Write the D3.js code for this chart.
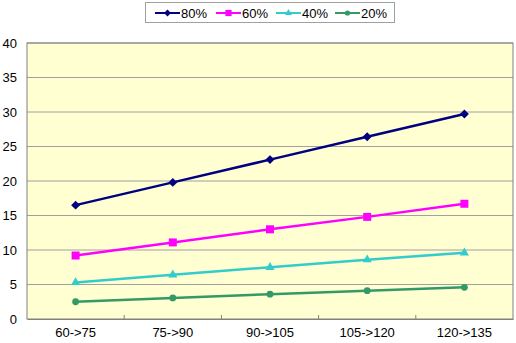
<!DOCTYPE html>
<html>
<head>
<meta charset="utf-8">
<script src="https://cdn.jsdelivr.net/npm/d3@7"></script>
<style>
  body { margin: 0; background: #fff; }
  text { font-family: "Liberation Sans", Arial, sans-serif; }
</style>
</head>
<body>
<div id="chart"></div>
<script>
const categories = ["60->75", "75->90", "90->105", "105->120", "120->135"];
const seriesNames = ["80%", "60%", "40%", "20%"];
const s80 = [16.5, 19.8, 23.1, 26.4, 29.7];
const s60 = [9.2, 11.1, 13.0, 14.8, 16.7];
const s40 = [5.3, 6.4, 7.5, 8.6, 9.6];
const s20 = [2.5, 3.05, 3.6, 4.1, 4.6];
const yTicks = [0, 5, 10, 15, 20, 25, 30, 35, 40];

const series = [
    { name: seriesNames[0], values: s80, color: "#000080", symbol: d3.symbolSquare, size: 40, rotate: 45 },
    { name: seriesNames[1], values: s60, color: "#FF00FF", symbol: d3.symbolSquare, size: 64, rotate: 0 },
    { name: seriesNames[2], values: s40, color: "#33CCCC", symbol: d3.symbolTriangle, size: 36, rotate: 0 },
    { name: seriesNames[3], values: s20, color: "#339966", symbol: d3.symbolCircle, size: 36, rotate: 0 }
];

const width = 516, height = 343;
const margin = { top: 43, right: 3, bottom: 24, left: 27 };
const w = width - margin.left - margin.right;
const h = height - margin.top - margin.bottom;

const svg = d3.select("#chart").append("svg")
    .attr("width", width)
    .attr("height", height);

const g = svg.append("g")
    .attr("transform", `translate(${margin.left},${margin.top})`);

const x = d3.scaleBand().domain(categories).range([0, w]);
const y = d3.scaleLinear().domain([0, 40]).range([h, 0]);

// plot background
g.append("rect")
    .attr("width", w).attr("height", h)
    .attr("fill", "#FFFFD2");

// gridlines
g.selectAll(".grid").data(yTicks.slice(1))
    .enter().append("line")
    .attr("x1", 0).attr("x2", w)
    .attr("y1", d => y(d)).attr("y2", d => y(d))
    .attr("stroke", "#A0A0A0")
    .attr("stroke-width", 1);

// plot border
g.append("rect")
    .attr("width", w).attr("height", h)
    .attr("fill", "none")
    .attr("stroke", "#808080");

// y axis
const yAxis = d3.axisLeft(y).tickValues(yTicks).tickSize(0).tickPadding(10);
g.append("g").call(yAxis)
    .call(a => a.select(".domain").remove())
    .selectAll("text")
    .attr("font-size", 13)
    .attr("fill", "#000");

// x axis, ticks between categories pointing up
const xAxis = d3.axisBottom(x).tickSize(0).tickPadding(9);
g.append("g").attr("transform", `translate(0,${h})`).call(xAxis)
    .call(a => a.select(".domain").attr("stroke", "#808080"))
    .selectAll("text")
    .attr("font-size", 13)
    .attr("fill", "#000");

g.selectAll(".xtick").data(categories.slice(1))
    .enter().append("line")
    .attr("x1", d => x(d)).attr("x2", d => x(d))
    .attr("y1", h).attr("y2", h - 4)
    .attr("stroke", "#808080");

// lines
const line = d3.line()
    .x((d, i) => x(categories[i]) + x.bandwidth() / 2)
    .y(d => y(d));

series.forEach(s => {
    const sg = g.append("g");
    sg.append("path")
        .attr("d", line(s.values))
        .attr("fill", "none")
        .attr("stroke", s.color)
        .attr("stroke-width", 2.5);
    sg.selectAll("path.pt").data(s.values)
        .enter().append("path")
        .attr("class", "pt")
        .attr("d", d3.symbol().type(s.symbol).size(s.size))
        .attr("transform", (d, i) => `translate(${x(categories[i]) + x.bandwidth() / 2},${y(d)}) rotate(${s.rotate})`)
        .attr("fill", s.color);
});

// legend
const legend = svg.append("g");
legend.append("rect")
    .attr("x", 145.5).attr("y", 2.5)
    .attr("width", 249).attr("height", 20)
    .attr("fill", "#fff")
    .attr("stroke", "#A0A0A0");

const legendX = [155, 216, 276, 335];
series.forEach((s, i) => {
    const lg = legend.append("g").attr("transform", `translate(${legendX[i]},13)`);
    lg.append("line")
        .attr("x1", 0).attr("x2", 25)
        .attr("stroke", s.color).attr("stroke-width", 2);
    lg.append("path")
        .attr("d", d3.symbol().type(s.symbol).size(s.size * 0.6))
        .attr("transform", `translate(12.5,0) rotate(${s.rotate})`)
        .attr("fill", s.color);
    lg.append("text")
        .attr("x", 26).attr("y", 4.5)
        .attr("font-size", 13)
        .text(s.name);
});
</script>
</body>
</html>
